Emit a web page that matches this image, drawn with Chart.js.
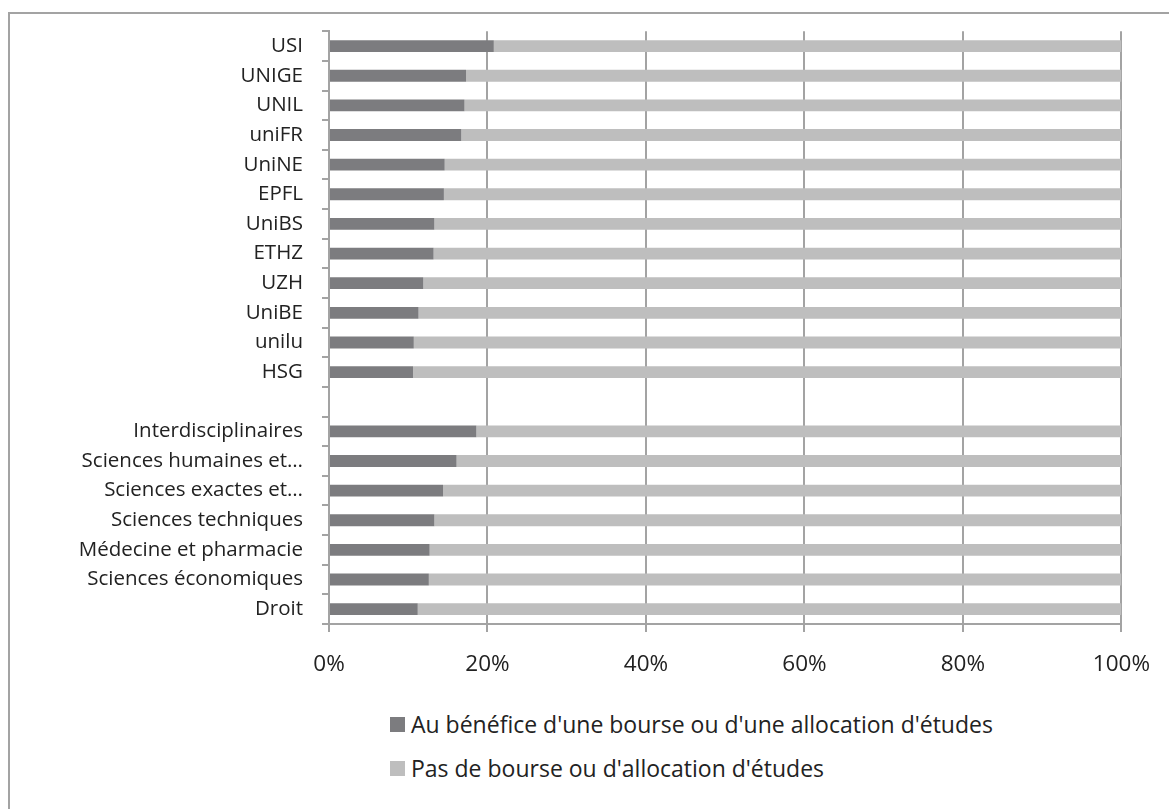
<!DOCTYPE html>
<html>
<head>
<meta charset="utf-8">
<script src="https://cdn.jsdelivr.net/npm/chart.js@4"></script>
<style>
  html, body { margin: 0; padding: 0; background: #fff; }
  body { width: 1169px; height: 809px; position: relative; overflow: hidden; font-family: 'Open Sans', sans-serif; }
  .frame { position: absolute; left: 8px; top: 12px; width: 1200px; height: 900px; border-left: 2px solid #a3a3a3; border-top: 2px solid #a3a3a3; }
  #chart { position: absolute; left: 0; top: 0; }
  .legend { position: absolute; left: 390px; top: 711px; }
  .legend-item { display: flex; align-items: center; height: 26px; margin-bottom: 18px; font-size: 23px; color: #222; }
  .legend-box { width: 15px; height: 15px; margin-right: 6px; }
</style>
</head>
<body>
<div class="frame"></div>
<canvas id="chart" width="1169" height="700"></canvas>
<div class="legend" id="legend"></div>

<script>
// categories, top to bottom (blank row separates universities from fields)
const categories = [
  'USI', 'UNIGE', 'UNIL', 'uniFR', 'UniNE', 'EPFL', 'UniBS', 'ETHZ', 'UZH', 'UniBE', 'unilu', 'HSG',
  '',
  'Interdisciplinaires', 'Sciences humaines et…', 'Sciences exactes et…', 'Sciences techniques',
  'Médecine et pharmacie', 'Sciences économiques', 'Droit'
];

// share of students (%)
const avecBourse = [20.8, 17.3, 17.1, 16.7, 14.6, 14.5, 13.3, 13.2, 11.9, 11.3, 10.7, 10.6, null,
  18.6, 16.1, 14.4, 13.3, 12.7, 12.6, 11.2];
const sansBourse = [79.2, 82.7, 82.9, 83.3, 85.4, 85.5, 86.7, 86.8, 88.1, 88.7, 89.3, 89.4, null,
  81.4, 83.9, 85.6, 86.7, 87.3, 87.4, 88.8];

const xTicks = [0, 20, 40, 60, 80, 100];

const seriesNames = [
  "Au bénéfice d'une bourse ou d'une allocation d'études",
  "Pas de bourse ou d'allocation d'études"
];

const FAMILY = "'Open Sans', sans-serif";
const GRID = '#a3a3a3';

const chart = new Chart(document.getElementById('chart'), {
  type: 'bar',
  data: {
    labels: categories,
    datasets: [
      { label: seriesNames[0], data: avecBourse, backgroundColor: '#7c7c7f', barPercentage: 0.4, categoryPercentage: 1 },
      { label: seriesNames[1], data: sansBourse, backgroundColor: '#bebebe', barPercentage: 0.4, categoryPercentage: 1 }
    ]
  },
  options: {
    indexAxis: 'y',
    responsive: false,
    animation: false,
    layout: { padding: { top: 31, right: 46, bottom: 16, left: 0 } },
    plugins: {
      legend: { display: false },
      tooltip: { enabled: false }
    },
    scales: {
      x: {
        stacked: true,
        min: 0,
        max: 100,
        afterBuildTicks: (scale) => { scale.ticks = xTicks.map(v => ({ value: v })); },
        afterFit: (scale) => { scale.height = 60; },
        grid: { color: GRID, lineWidth: 2, tickLength: 8 },
        border: { color: GRID, width: 2 },
        ticks: { font: { family: FAMILY, size: 22.5 }, color: '#222', padding: 19, callback: v => v + '%' }
      },
      y: {
        stacked: true,
        afterFit: (scale) => { scale.width = 329; },
        grid: { color: GRID, lineWidth: 2, tickLength: 7, drawOnChartArea: false },
        border: { color: GRID, width: 2 },
        ticks: { font: { family: FAMILY, size: 20.5 }, color: '#222', padding: 19, autoSkip: false }
      }
    }
  }
});

// legend stacked vertically like the original
const legendEl = document.getElementById('legend');
chart.data.datasets.forEach(ds => {
  const row = document.createElement('div');
  row.className = 'legend-item';
  row.innerHTML = `<span class="legend-box" style="background:${ds.backgroundColor}"></span><span>${ds.label}</span>`;
  legendEl.appendChild(row);
});
</script>
</body>
</html>
